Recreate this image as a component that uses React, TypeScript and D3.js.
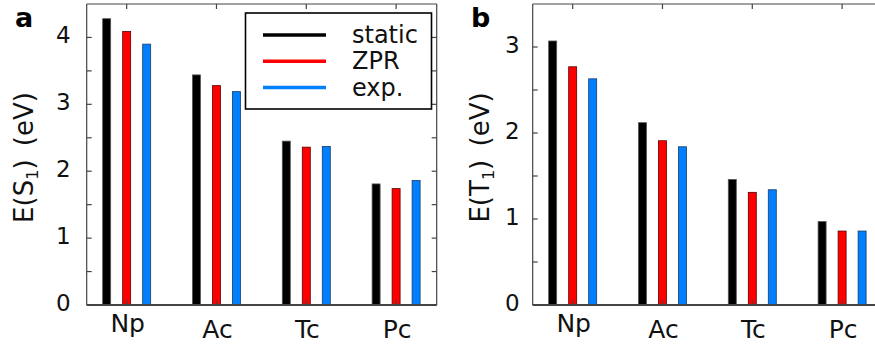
import React from "react";
import * as d3 from "d3";

const categories = ["Np", "Ac", "Tc", "Pc"];
const seriesNames = ["static", "ZPR", "exp."];
const seriesColors = ["#000000", "#ff0000", "#0080ff"];
const seriesEdges = ["#555555", "#5a0000", "#1a3a66"];

// Panel a: E(S1)
const s1Static = [4.28, 3.44, 2.45, 1.81];
const s1Zpr = [4.09, 3.28, 2.36, 1.74];
const s1Exp = [3.9, 3.19, 2.37, 1.86];
const s1Ticks = [0, 1, 2, 3, 4];
const s1Minor = [0.5, 1.5, 2.5, 3.5];

// Panel b: E(T1)
const t1Static = [3.07, 2.12, 1.46, 0.97];
const t1Zpr = [2.77, 1.91, 1.31, 0.86];
const t1Exp = [2.63, 1.84, 1.34, 0.86];
const t1Ticks = [0, 1, 2, 3];
const t1Minor = [0.5, 1.5, 2.5];

const FONT = "DejaVu Sans, Verdana, sans-serif";
const TOP = 4;
const BOTTOM = 305;
const BAR_W = 8;
const OFFSETS = [-20, 0, 20];
const TICK = 5;
const AXIS = "#444";

type PanelProps = {
  left: number;
  letter: string;
  letterX: number;
  labelMain: string;
  labelSub: string;
  labelX: number;
  yMax: number;
  ticks: number[];
  minor: number[];
  series: number[][];
  tickLabelGap: number;
  legend?: boolean;
};

function Panel(p: PanelProps) {
  const width = 350;
  const right = p.left + width;
  const x = d3.scaleLinear().domain([-0.445, 3.452]).range([p.left, right]);
  const y = d3.scaleLinear().domain([0, p.yMax]).range([BOTTOM, TOP]);
  const allTicks = [...p.ticks, ...p.minor];
  const hasDesc = (s: string) => /[gjpqy]/.test(s);
  return (
    <g>
      {p.series.map((vals, si) =>
        vals.map((v, ci) => (
          <rect
            key={`b${si}-${ci}`}
            x={x(ci) + OFFSETS[si] - BAR_W / 2}
            y={y(v)}
            width={BAR_W}
            height={y(0) - y(v)}
            fill={seriesColors[si]}
            stroke={seriesEdges[si]}
            strokeWidth={0.8}
          />
        ))
      )}
      <line x1={p.left} x2={right} y1={TOP} y2={TOP} stroke={AXIS} strokeWidth={1.2} />
      <line x1={p.left} x2={p.left} y1={TOP} y2={BOTTOM} stroke={AXIS} strokeWidth={1.2} />
      <line x1={right} x2={right} y1={TOP} y2={BOTTOM} stroke={AXIS} strokeWidth={1.2} />
      <line x1={p.left} x2={right} y1={BOTTOM} y2={BOTTOM} stroke={AXIS} strokeWidth={2} />
      {allTicks.map((t) => (
        <g key={`yt${t}`}>
          <line x1={p.left} x2={p.left + TICK} y1={y(t)} y2={y(t)} stroke={AXIS} strokeWidth={1.2} />
          <line x1={right} x2={right - TICK} y1={y(t)} y2={y(t)} stroke={AXIS} strokeWidth={1.2} />
        </g>
      ))}
      {p.ticks.map((t) => (
        <text
          key={`yl${t}`}
          x={p.left - p.tickLabelGap}
          y={y(t) + 6}
          textAnchor="end"
          fontFamily={FONT}
          fontSize={23}
          fill="#111"
        >
          {t}
        </text>
      ))}
      {categories.map((c, ci) => (
        <g key={`xt${c}`}>
          <line x1={x(ci)} x2={x(ci)} y1={BOTTOM} y2={BOTTOM - TICK} stroke={AXIS} strokeWidth={1.2} />
          <line x1={x(ci)} x2={x(ci)} y1={TOP} y2={TOP + TICK} stroke={AXIS} strokeWidth={1.2} />
          <text
            x={x(ci) + 1}
            y={hasDesc(c) ? 332 : 337.5}
            textAnchor="middle"
            fontFamily={FONT}
            fontSize={25}
            fill="#111"
          >
            {c}
          </text>
        </g>
      ))}
      <text
        transform={`translate(${p.labelX},157.5) rotate(-90)`}
        textAnchor="middle"
        fontFamily={FONT}
        fontSize={26}
        fill="#111"
        wordSpacing={5}
      >
        {p.labelMain}
        <tspan fontSize={16} dy={5}>
          {p.labelSub}
        </tspan>
        <tspan dy={-5}>{") (eV)"}</tspan>
      </text>
      <text x={p.letterX} y={27} fontFamily={FONT} fontWeight="bold" fontSize={27} fill="#000">
        {p.letter}
      </text>
      {p.legend && (
        <g>
          <rect x={245.5} y={13} width={186} height={96} fill="#fff" stroke="#000" strokeWidth={1.6} />
          {seriesNames.map((n, i) => (
            <g key={n}>
              <line
                x1={263}
                x2={326}
                y1={35 + i * 26.3}
                y2={35 + i * 26.3}
                stroke={seriesColors[i]}
                strokeWidth={3.5}
              />
              <text x={352} y={43 + i * 26.3} fontFamily={FONT} fontSize={24} fill="#111">
                {n}
              </text>
            </g>
          ))}
        </g>
      )}
    </g>
  );
}

export default function App() {
  return (
    <svg
      width={875}
      height={345}
      style={{ position: "absolute", left: 0, top: 0, background: "#fff" }}
    >
      <rect x={0} y={0} width={875} height={345} fill="#fff" />
      <Panel
        left={86.7}
        letter="a"
        letterX={15}
        labelMain="E(S"
        labelSub="1"
        labelX={33}
        yMax={4.5}
        ticks={s1Ticks}
        minor={s1Minor}
        series={[s1Static, s1Zpr, s1Exp]}
        tickLabelGap={16}
        legend
      />
      <Panel
        left={532.7}
        letter="b"
        letterX={471}
        labelMain="E(T"
        labelSub="1"
        labelX={489}
        yMax={3.5}
        ticks={t1Ticks}
        minor={t1Minor}
        series={[t1Static, t1Zpr, t1Exp]}
        tickLabelGap={13}
      />
    </svg>
  );
}
